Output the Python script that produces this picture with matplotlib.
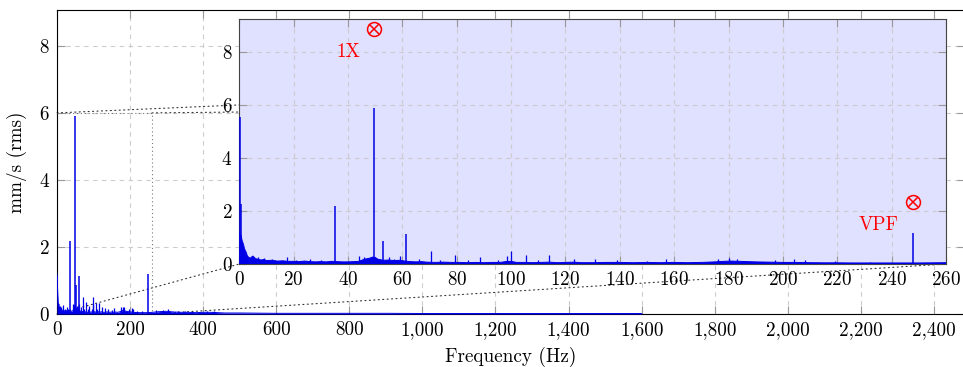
import numpy as np
import matplotlib
matplotlib.use('Agg')
import matplotlib.pyplot as plt
from matplotlib.ticker import FuncFormatter
from matplotlib.patches import ConnectionPatch

plt.rcParams['font.family'] = 'serif'
plt.rcParams['font.serif'] = ['cmr10', 'DejaVu Serif']
plt.rcParams['axes.formatter.use_mathtext'] = True
plt.rcParams['font.size'] = 13.8

# noise floor of the spectrum (Hz, mm/s rms)
floor_freq = [0, 0.3, 0.6, 1, 1.5, 2, 2.5, 3, 3.5, 4, 5, 6, 7, 8, 9, 10, 12, 14, 16, 18,
              20, 22, 24, 26, 28, 30, 32, 34, 36, 38, 40, 42, 44, 46, 47, 48, 49, 50, 51, 53,
              55, 57, 59, 61, 63, 65, 67, 69, 72, 75, 78, 81, 84, 87, 90, 93, 96, 98, 100, 102,
              105, 108, 111, 114, 117, 120, 123, 126, 130, 135, 140, 145, 150, 155, 160, 165,
              170, 175, 178, 181, 184, 187, 190, 195, 200, 205, 210, 215, 220, 225, 230, 240,
              250, 260, 280, 300, 320, 340, 360, 380, 400, 420, 440, 460, 500, 550, 600, 700,
              800, 900, 1000, 1100, 1200, 1300, 1400, 1500, 1600]
floor_amp = [1.2, 1.0, 1.1, 0.9, 0.75, 0.55, 0.45, 0.3, 0.25, 0.22, 0.3, 0.2, 0.18, 0.15, 0.17, 0.13, 0.14, 0.11, 0.12, 0.1,
             0.1, 0.09, 0.11, 0.09, 0.08, 0.09, 0.08, 0.1, 0.09, 0.08, 0.08, 0.09, 0.1, 0.18, 0.2, 0.22, 0.26, 0.25, 0.18, 0.14,
             0.15, 0.13, 0.14, 0.11, 0.09, 0.08, 0.09, 0.07, 0.06, 0.07, 0.06, 0.06, 0.05, 0.06, 0.05, 0.06, 0.06, 0.09, 0.1, 0.06,
             0.06, 0.05, 0.06, 0.07, 0.05, 0.06, 0.07, 0.05, 0.05, 0.06, 0.06, 0.05, 0.06, 0.05, 0.06, 0.05,
             0.06, 0.08, 0.1, 0.11, 0.1, 0.09, 0.08, 0.07, 0.06, 0.06, 0.05, 0.045, 0.045, 0.04, 0.04, 0.04,
             0.04, 0.05, 0.07, 0.08, 0.06, 0.05, 0.05, 0.04, 0.05, 0.05, 0.04, 0.03, 0.03, 0.025, 0.02, 0.02,
             0.02, 0.02, 0.015, 0.015, 0.015, 0.015, 0.015, 0.015, 0.015]

# spectral lines
peak_freq = [0.1, 0.5, 35.2, 49.5, 52.7, 61.5, 247.8]
peak_amp = [5.55, 2.25, 2.19, 5.9, 0.87, 1.12, 1.18]

# small spikes in the noise
spike_freq = [7, 9, 12, 17.5, 21, 26, 30, 44, 46, 55, 57, 59, 66, 70.5, 74, 79.5, 84, 88.5, 95,
              98.5, 99.8, 105.5, 110, 114, 123, 131, 139, 150, 157, 176, 180, 183, 197, 204, 208,
              219, 232, 270, 290, 305, 330, 350, 410, 430]
spike_amp = [0.25, 0.22, 0.2, 0.27, 0.15, 0.2, 0.15, 0.3, 0.25, 0.25, 0.2, 0.3, 0.2, 0.5, 0.15, 0.35, 0.15, 0.25, 0.15,
             0.3, 0.5, 0.33, 0.15, 0.33, 0.2, 0.18, 0.15, 0.12, 0.17, 0.2, 0.22, 0.2, 0.15, 0.17, 0.15,
             0.1, 0.08, 0.12, 0.12, 0.15, 0.1, 0.08, 0.08, 0.08]

marker_x = [49.5, 247.8]
marker_y = [8.87, 2.34]
marker_text = ['1X', 'VPF']

blue = '#0000e6'
gridc = '#cccccc'


def draw_spectrum(a, over_spine):
    a.fill_between(floor_freq, 0, floor_amp, color=blue, lw=0, zorder=3)
    a.plot(floor_freq, floor_amp, color=blue, lw=0.7, zorder=3)
    a.vlines(spike_freq, 0, spike_amp, color=blue, lw=0.9, zorder=3)
    if over_spine:
        a.vlines(peak_freq, 0, peak_amp, color=blue, lw=1.1, zorder=3, clip_on=False)
    else:
        a.vlines(peak_freq, 0, peak_amp, color=blue, lw=1.1, zorder=2)


fig = plt.figure(figsize=(9.63, 3.67), dpi=100)

# main axes
ax = fig.add_axes([57 / 963, 53 / 367, 908 / 963, 304 / 367])
draw_spectrum(ax, False)
ax.set_xlim(0, 2485)
ax.set_ylim(0, 9.07)
ax.set_xticks(np.arange(0, 2401, 200))
ax.set_yticks([0, 2, 4, 6, 8])
ax.xaxis.set_major_formatter(FuncFormatter(lambda v, p: '{:,.0f}'.format(v)))
ax.grid(True, ls=(0, (4, 4)), color=gridc, lw=0.8)
ax.set_axisbelow(True)
ax.tick_params(direction='in', top=True, right=True, color='#999999', length=6, width=0.8, pad=5)
for s in ax.spines.values():
    s.set_linewidth(0.8)
    s.set_zorder(2.5)
ax.set_xlabel('Frequency (Hz)', va='center')
ax.xaxis.set_label_coords(0.5, -0.14)
ax.set_ylabel('mm/s (rms)')
ax.yaxis.set_label_coords(-0.033, 0.5)

# zoom box on main axes
ax.plot([0, 260, 260], [6, 6, 0], color='#777777', lw=0.8, ls=(0, (1, 2.5)), zorder=4)

# inset
ins = fig.add_axes([239.3 / 963, 103 / 367, 706.7 / 963, 244.7 / 367])
ins.set_facecolor('#e0e0ff')
draw_spectrum(ins, True)
ins.set_xlim(0, 260)
ins.set_ylim(0, 9.23)
ins.set_xticks(np.arange(0, 261, 20))
ins.set_yticks([0, 2, 4, 6, 8])
ins.grid(True, ls=(0, (4, 4)), color=gridc, lw=0.8)
ins.set_axisbelow(True)
ins.tick_params(direction='in', top=True, right=True, color='#999999', length=6, width=0.8, pad=5)
for s in ins.spines.values():
    s.set_color('#444444')
    s.set_linewidth(0.8)

for xm, ym, t in zip(marker_x, marker_y, marker_text):
    ins.plot(xm, ym, marker='o', ms=10, mfc='none', mec='red', mew=1.1, zorder=5)
    ins.plot(xm, ym, marker='x', ms=6.5, mec='red', mew=1.1, zorder=5)
    ins.annotate(t, (xm, ym), xytext=(-10, -10), textcoords='offset points',
                 ha='right', va='top', color='red', zorder=5)

# connecting lines between the zoom box and the inset
for (xa, ya) in [(0, 6), (0, 0), (260, 0), (260, 6)]:
    con = ConnectionPatch(xyA=(xa, ya), coordsA=ax.transData, xyB=(xa, ya), coordsB=ins.transData,
                          color='#333333', lw=0.8, ls=(0, (1, 3)))
    con.set_clip_on(False)
    ax.add_artist(con)

fig.savefig('out.png', dpi=100)
